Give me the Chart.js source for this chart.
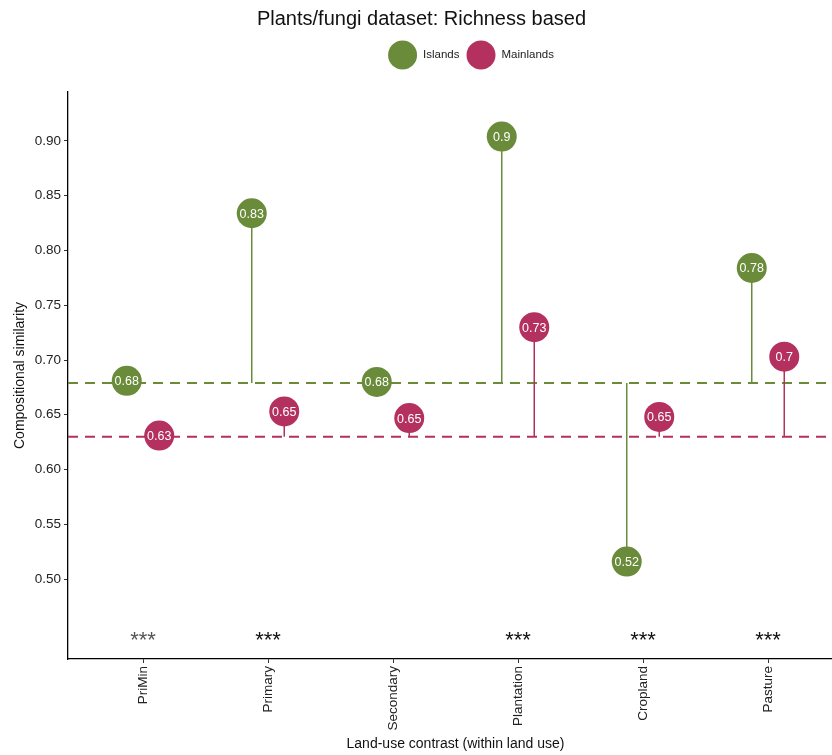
<!DOCTYPE html>
<html>
<head>
<meta charset="utf-8">
<script src="https://cdn.jsdelivr.net/npm/chart.js@4"></script>
<style>
  html, body { margin: 0; padding: 0; background: #fff; overflow: hidden; }
  #wrap { width: 936px; height: 755px; }
</style>
</head>
<body>
<div id="wrap"><canvas id="grafico"></canvas></div>
<script>
const categorias = ["PriMin", "Primary", "Secondary", "Plantation", "Cropland", "Pasture"];
const ilhas = [0.681, 0.834, 0.680, 0.904, 0.516, 0.784];
const continentes = [0.631, 0.653, 0.647, 0.730, 0.648, 0.703];
const mediaIlhas = 0.679;
const mediaContinentes = 0.630;
const significancia = ["***", "***", "", "***", "***", "***"];
const corSignificancia = ["#555555", "#111111", "#111111", "#111111", "#111111", "#111111"];
const ticksY = [0.50, 0.55, 0.60, 0.65, 0.70, 0.75, 0.80, 0.85, 0.90];

const series = [
    { nome: "Islands", valores: ilhas, media: mediaIlhas, cor: "#698B3A", desloc: -0.13 },
    { nome: "Mainlands", valores: continentes, media: mediaContinentes, cor: "#B3305F", desloc: 0.13 }
];

const FONTE = "'Liberation Sans', Arial, sans-serif";
const nivelEstrelas = 0.449;

/* pontos primeiro (desenhados por cima), depois hastes, depois linhas tracejadas */
const datasets = [];
series.forEach(s => {
    datasets.push({
        type: "scatter",
        label: s.nome,
        ehPonto: true,
        data: s.valores.map((v, i) => ({ x: i + s.desloc, y: v })),
        backgroundColor: s.cor,
        borderWidth: 0,
        pointRadius: 15,
        pointHoverRadius: 15
    });
});
series.forEach(s => {
    s.valores.forEach((v, i) => {
        datasets.push({
            type: "line",
            data: [{ x: i + s.desloc, y: s.media }, { x: i + s.desloc, y: v }],
            borderColor: s.cor,
            borderWidth: 1.5,
            pointRadius: 0
        });
    });
});
series.forEach(s => {
    datasets.push({
        type: "line",
        data: [{ x: -0.6, y: s.media }, { x: 5.6, y: s.media }],
        borderColor: s.cor,
        borderWidth: 2,
        borderDash: [10, 7],
        pointRadius: 0
    });
});

/* rótulos dentro dos círculos, asteriscos e legenda */
const extras = {
    id: "extras",
    afterDatasetsDraw(chart) {
        const ctx = chart.ctx;
        ctx.save();
        ctx.fillStyle = "#fff";
        ctx.font = "12.5px " + FONTE;
        ctx.textAlign = "center";
        ctx.textBaseline = "middle";
        chart.data.datasets.forEach((ds, di) => {
            if (!ds.ehPonto) return;
            chart.getDatasetMeta(di).data.forEach((el, i) => {
                const v = Math.round(ds.data[i].y * 100) / 100;
                ctx.fillText(String(v), el.x, el.y + 1);
            });
        });

        const xs = chart.scales.x, ys = chart.scales.y;
        const tam = 22;
        ctx.font = tam + "px " + FONTE;
        ctx.textBaseline = "alphabetic";
        significancia.forEach((txt, i) => {
            if (!txt) return;
            ctx.fillStyle = corSignificancia[i];
            ctx.fillText(txt, xs.getPixelForValue(i), ys.getPixelForValue(nivelEstrelas) + tam * 0.57);
        });
        ctx.restore();
    },
    afterDraw(chart) {
        const ctx = chart.ctx;
        ctx.save();
        ctx.font = "11.5px " + FONTE;
        ctx.textBaseline = "middle";
        ctx.textAlign = "left";
        const r = 14.5, gapTexto = 6, gapItem = 7;
        const larguras = series.map(s => 2 * r + gapTexto + ctx.measureText(s.nome).width);
        const total = larguras.reduce((a, b) => a + b, 0) + gapItem * (series.length - 1);
        let x = chart.width / 2 + 3 - total / 2;
        const y = 55;
        series.forEach((s, k) => {
            ctx.fillStyle = s.cor;
            ctx.beginPath();
            ctx.arc(x + r, y, r, 0, Math.PI * 2);
            ctx.fill();
            ctx.fillStyle = "#222";
            ctx.fillText(s.nome, x + 2 * r + gapTexto, y);
            x += larguras[k] + gapItem;
        });
        ctx.restore();
    }
};

new Chart(document.getElementById("grafico"), {
    data: { datasets },
    plugins: [extras],
    options: {
        responsive: true,
        maintainAspectRatio: false,
        animation: false,
        layout: { padding: { left: 0, right: 93, top: 0, bottom: 0 } },
        plugins: {
            legend: { display: false },
            tooltip: { enabled: false },
            title: {
                display: true,
                text: "Plants/fungi dataset: Richness based",
                color: "#111",
                font: { family: FONTE, size: 20, weight: "normal" },
                padding: { top: 7, bottom: 61 }
            }
        },
        scales: {
            x: {
                type: "linear",
                min: -0.6,
                max: 5.6,
                afterBuildTicks: ax => { ax.ticks = categorias.map((_, i) => ({ value: i })); },
                afterFit: ax => { ax.height = 96; },
                border: { color: "#000", width: 1.3 },
                grid: { display: true, drawOnChartArea: false, tickLength: 4, color: "#333" },
                ticks: {
                    autoSkip: false,
                    minRotation: 90,
                    maxRotation: 90,
                    padding: 3,
                    color: "#222",
                    font: { family: FONTE, size: 13.5 },
                    callback: v => categorias[v]
                },
                title: {
                    display: true,
                    text: "Land-use contrast (within land use)",
                    color: "#111",
                    font: { family: FONTE, size: 14 },
                    padding: { top: 0, bottom: 2 }
                }
            },
            y: {
                type: "linear",
                min: 0.427,
                max: 0.9447,
                afterBuildTicks: ax => { ax.ticks = ticksY.map(v => ({ value: v })); },
                afterFit: ax => { ax.width = 68; },
                border: { color: "#000", width: 1.3 },
                grid: { display: true, drawOnChartArea: false, tickLength: 4, color: "#333" },
                ticks: {
                    padding: 3,
                    color: "#222",
                    font: { family: FONTE, size: 13.5 },
                    callback: v => Number(v).toFixed(2)
                },
                title: {
                    display: true,
                    text: "Compositional similarity",
                    color: "#111",
                    font: { family: FONTE, size: 14 },
                    padding: { top: 12, bottom: 0 }
                }
            }
        }
    }
});
</script>
</body>
</html>
